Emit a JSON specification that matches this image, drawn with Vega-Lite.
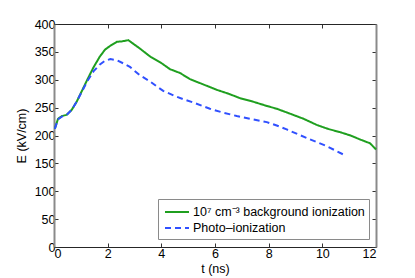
{
  "$schema": "https://vega.github.io/schema/vega-lite/v6.json",
  "width": 322,
  "height": 223,
  "autosize": {"type": "none"},
  "padding": {"left": 54, "top": 24, "right": 39, "bottom": 31},
  "config": {
    "font": "Liberation Sans",
    "view": {"stroke": null},
    "axis": {"labelFont": "Liberation Sans", "titleFont": "Liberation Sans", "labelFontSize": 12.5, "titleFontSize": 12.5, "titleFontWeight": "normal", "labelColor": "#000", "titleColor": "#000", "grid": false, "tickSize": -4, "tickColor": "#333", "domainColor": "#333"},
    "legend": {"labelFont": "Liberation Sans", "labelFontSize": 12.5, "labelColor": "#000"}
  },
  "datasets": {
    "lines": [
      {"t": 0.03, "E": 212, "s": "10⁷ cm⁻³ background ionization"},
      {"t": 0.15, "E": 230, "s": "10⁷ cm⁻³ background ionization"},
      {"t": 0.3, "E": 235, "s": "10⁷ cm⁻³ background ionization"},
      {"t": 0.47, "E": 237, "s": "10⁷ cm⁻³ background ionization"},
      {"t": 0.66, "E": 246, "s": "10⁷ cm⁻³ background ionization"},
      {"t": 0.85, "E": 261, "s": "10⁷ cm⁻³ background ionization"},
      {"t": 1.03, "E": 279, "s": "10⁷ cm⁻³ background ionization"},
      {"t": 1.25, "E": 301, "s": "10⁷ cm⁻³ background ionization"},
      {"t": 1.47, "E": 322, "s": "10⁷ cm⁻³ background ionization"},
      {"t": 1.7, "E": 341, "s": "10⁷ cm⁻³ background ionization"},
      {"t": 1.9, "E": 354, "s": "10⁷ cm⁻³ background ionization"},
      {"t": 2.1, "E": 361, "s": "10⁷ cm⁻³ background ionization"},
      {"t": 2.34, "E": 368, "s": "10⁷ cm⁻³ background ionization"},
      {"t": 2.55, "E": 369, "s": "10⁷ cm⁻³ background ionization"},
      {"t": 2.77, "E": 371, "s": "10⁷ cm⁻³ background ionization"},
      {"t": 3.2, "E": 356, "s": "10⁷ cm⁻³ background ionization"},
      {"t": 3.6, "E": 341, "s": "10⁷ cm⁻³ background ionization"},
      {"t": 4.0, "E": 330, "s": "10⁷ cm⁻³ background ionization"},
      {"t": 4.32, "E": 319, "s": "10⁷ cm⁻³ background ionization"},
      {"t": 4.7, "E": 312, "s": "10⁷ cm⁻³ background ionization"},
      {"t": 5.07, "E": 301, "s": "10⁷ cm⁻³ background ionization"},
      {"t": 5.44, "E": 294, "s": "10⁷ cm⁻³ background ionization"},
      {"t": 6.06, "E": 282, "s": "10⁷ cm⁻³ background ionization"},
      {"t": 6.5, "E": 275, "s": "10⁷ cm⁻³ background ionization"},
      {"t": 6.93, "E": 267, "s": "10⁷ cm⁻³ background ionization"},
      {"t": 7.4, "E": 261, "s": "10⁷ cm⁻³ background ionization"},
      {"t": 7.93, "E": 253, "s": "10⁷ cm⁻³ background ionization"},
      {"t": 8.3, "E": 248, "s": "10⁷ cm⁻³ background ionization"},
      {"t": 8.75, "E": 240, "s": "10⁷ cm⁻³ background ionization"},
      {"t": 9.3, "E": 230, "s": "10⁷ cm⁻³ background ionization"},
      {"t": 9.79, "E": 219, "s": "10⁷ cm⁻³ background ionization"},
      {"t": 10.2, "E": 212, "s": "10⁷ cm⁻³ background ionization"},
      {"t": 10.66, "E": 206, "s": "10⁷ cm⁻³ background ionization"},
      {"t": 11.05, "E": 200, "s": "10⁷ cm⁻³ background ionization"},
      {"t": 11.4, "E": 193, "s": "10⁷ cm⁻³ background ionization"},
      {"t": 11.78, "E": 186, "s": "10⁷ cm⁻³ background ionization"},
      {"t": 12.0, "E": 175, "s": "10⁷ cm⁻³ background ionization"},
      {"t": 0.03, "E": 212, "s": "Photo–ionization"},
      {"t": 0.15, "E": 229, "s": "Photo–ionization"},
      {"t": 0.3, "E": 234, "s": "Photo–ionization"},
      {"t": 0.47, "E": 237, "s": "Photo–ionization"},
      {"t": 0.66, "E": 246, "s": "Photo–ionization"},
      {"t": 0.85, "E": 261, "s": "Photo–ionization"},
      {"t": 1.03, "E": 278, "s": "Photo–ionization"},
      {"t": 1.25, "E": 298, "s": "Photo–ionization"},
      {"t": 1.47, "E": 315, "s": "Photo–ionization"},
      {"t": 1.7, "E": 327, "s": "Photo–ionization"},
      {"t": 1.9, "E": 334, "s": "Photo–ionization"},
      {"t": 2.1, "E": 337, "s": "Photo–ionization"},
      {"t": 2.34, "E": 335, "s": "Photo–ionization"},
      {"t": 2.6, "E": 329, "s": "Photo–ionization"},
      {"t": 2.83, "E": 323, "s": "Photo–ionization"},
      {"t": 3.2, "E": 308, "s": "Photo–ionization"},
      {"t": 3.58, "E": 297, "s": "Photo–ionization"},
      {"t": 3.83, "E": 288, "s": "Photo–ionization"},
      {"t": 4.07, "E": 280, "s": "Photo–ionization"},
      {"t": 4.45, "E": 272, "s": "Photo–ionization"},
      {"t": 4.82, "E": 265, "s": "Photo–ionization"},
      {"t": 5.2, "E": 259, "s": "Photo–ionization"},
      {"t": 5.81, "E": 248, "s": "Photo–ionization"},
      {"t": 6.3, "E": 241, "s": "Photo–ionization"},
      {"t": 6.81, "E": 235, "s": "Photo–ionization"},
      {"t": 7.3, "E": 230, "s": "Photo–ionization"},
      {"t": 7.93, "E": 224, "s": "Photo–ionization"},
      {"t": 8.3, "E": 218, "s": "Photo–ionization"},
      {"t": 8.67, "E": 211, "s": "Photo–ionization"},
      {"t": 9.1, "E": 202, "s": "Photo–ionization"},
      {"t": 9.54, "E": 193, "s": "Photo–ionization"},
      {"t": 10.16, "E": 181, "s": "Photo–ionization"},
      {"t": 10.78, "E": 166, "s": "Photo–ionization"}
    ]
  },
  "data": {"name": "lines"},
  "layer": [
    {
      "mark": {"type": "line", "strokeWidth": 2},
      "encoding": {
        "x": {"field": "t", "type": "quantitative", "scale": {"domain": [0, 12], "nice": false}, "axis": {"title": "t (ns)", "values": [0, 2, 4, 6, 8, 10, 12], "labelPadding": 4, "titlePadding": 3, "domainColor": "#262626"}},
        "y": {"field": "E", "type": "quantitative", "scale": {"domain": [0, 400], "nice": false}, "axis": {"title": "E (kV/cm)", "values": [0, 50, 100, 150, 200, 250, 300, 350, 400], "labelPadding": 3, "titlePadding": 6, "domainColor": "#8a8a8a", "domainWidth": 2}},
        "color": {"field": "s", "type": "nominal", "scale": {"domain": ["10⁷ cm⁻³ background ionization", "Photo–ionization"], "range": ["#1f9f1f", "#3050ff"]}, "legend": {"title": null, "orient": "none", "legendX": 104, "legendY": 175, "fillColor": "#ffffff", "strokeColor": "#8a8a8a", "padding": 4, "symbolType": "M-0.75,0H2.25", "symbolSize": 256, "symbolStrokeWidth": 2, "rowPadding": 0, "labelOffset": 13, "labelLimit": 400}},
        "strokeDash": {"field": "s", "type": "nominal", "scale": {"domain": ["10⁷ cm⁻³ background ionization", "Photo–ionization"], "range": [[1, 0], [6, 4]]}, "legend": null}
      }
    },
    {
      "mark": {"type": "point", "opacity": 0},
      "encoding": {
        "x": {"field": "t", "type": "quantitative", "axis": {"orient": "top", "labels": false, "title": null, "values": [0, 2, 4, 6, 8, 10, 12], "domainColor": "#262626"}},
        "y": {"field": "E", "type": "quantitative", "axis": {"orient": "right", "labels": false, "title": null, "values": [0, 50, 100, 150, 200, 250, 300, 350, 400], "domainColor": "#8a8a8a", "domainWidth": 2}}
      }
    }
  ],
  "resolve": {"axis": {"x": "independent", "y": "independent"}}
}
